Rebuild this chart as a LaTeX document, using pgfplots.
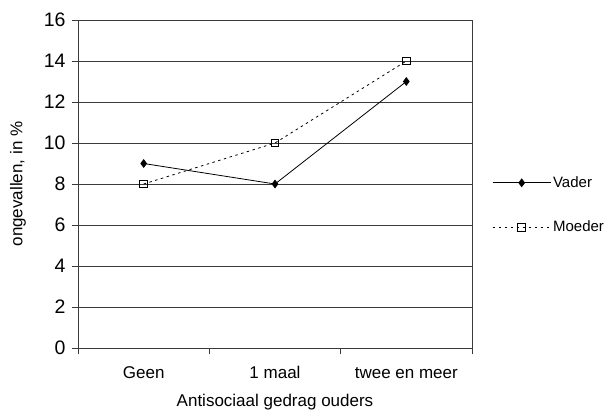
\documentclass[border=0pt]{standalone}
\usepackage{pgfplots}
\pgfplotsset{compat=1.18}
\usepackage{fontspec}
\setmainfont{Liberation Sans}
\definecolor{gridc}{HTML}{3A3A3A}
\begin{document}
\begin{tikzpicture}
\path[use as bounding box] (-78bp,-64bp) rectangle (527bp,348bp);
\begin{axis}[
  at={(0,0)}, anchor=south west,
  scale only axis, width=394bp, height=328bp,
  xmin=-0.5, xmax=2.5, ymin=0, ymax=16,
  ytick={0,2,...,16},
  xtick={-0.5,0.5,1.5,2.5},
  xticklabels={Geen,1 maal,twee en meer},
  x tick label as interval,
  xtick pos=bottom, ytick pos=left,
  tick align=outside,
  major tick length=6bp,
  axis line style={gridc, line width=0.9bp},
  every tick/.style={gridc, line width=0.9bp},
  ymajorgrids,
  grid style={gridc, line width=0.9bp},
  /pgf/number format/assume math mode=true,
  yticklabel style={font=\fontsize{19.5bp}{21bp}\selectfont, xshift=-3bp},
  xticklabel style={font=\fontsize{17bp}{19bp}\selectfont, text height=12.5bp, text depth=3.5bp, yshift=-8bp},
  xlabel={Antisociaal gedrag ouders},
  ylabel={ongevallen, in \%},
  xlabel style={font=\fontsize{17bp}{19bp}\selectfont, at={(axis description cs:0.5,-0.1646)}, anchor=center},
  ylabel style={font=\fontsize{17bp}{19bp}\selectfont, at={(axis description cs:-0.1523,0.5)}, anchor=center},
  legend style={at={(1.051,0.436)}, anchor=west, draw=none, fill=none,
    font=\fontsize{15bp}{17bp}\selectfont, row sep=28bp, inner sep=0pt,
    nodes={inner sep=2bp}},
  legend cell align=left,
  legend image code/.code={\draw[mark repeat=2,mark phase=2,#1] plot coordinates {(0bp,0bp) (29bp,0bp) (58bp,0bp)};},
]
\addplot[black, line width=0.8bp, mark=diamond*, mark size=3.8bp, mark options={solid, fill=black}]
  coordinates {(0,9) (1,8) (2,13)};
\addlegendentry{Vader}
\addplot[black, line width=0.8bp, dash pattern=on 2.5bp off 3.5bp, mark=square, mark size=3.8bp, mark options={solid, fill=white}]
  coordinates {(0,8) (1,10) (2,14)};
\addlegendentry{Moeder}
\end{axis}
\end{tikzpicture}
\end{document}
